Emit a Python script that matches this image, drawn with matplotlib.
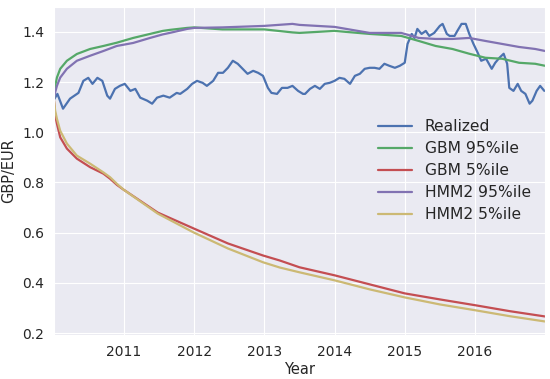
import numpy as np
import matplotlib
matplotlib.use("Agg")
import matplotlib.pyplot as plt
import seaborn as sns

# realized GBP/EUR (decimal year, rate)
realized_t = [2010.00, 2010.05, 2010.13, 2010.23, 2010.35, 2010.42, 2010.49, 2010.55, 2010.62,
              2010.69, 2010.76, 2010.80, 2010.87, 2010.94, 2011.01, 2011.09, 2011.16, 2011.23,
              2011.33, 2011.40, 2011.47, 2011.56, 2011.65, 2011.75, 2011.80, 2011.90, 2011.97,
              2012.04, 2012.12, 2012.18, 2012.27, 2012.34, 2012.41, 2012.48, 2012.55, 2012.62,
              2012.69, 2012.76, 2012.84, 2012.91, 2012.98, 2013.05, 2013.10, 2013.18, 2013.25,
              2013.33, 2013.40, 2013.48, 2013.55, 2013.58, 2013.65, 2013.72, 2013.79, 2013.86,
              2013.93, 2014.00, 2014.07, 2014.14, 2014.22, 2014.29, 2014.36, 2014.43, 2014.50,
              2014.57, 2014.64, 2014.71, 2014.78, 2014.86, 2014.93, 2015.00, 2015.04, 2015.10,
              2015.14, 2015.18, 2015.24, 2015.30, 2015.35, 2015.42, 2015.50, 2015.54, 2015.60,
              2015.64, 2015.71, 2015.75, 2015.81, 2015.87, 2015.92, 2015.98, 2016.04, 2016.09,
              2016.16, 2016.24, 2016.29, 2016.35, 2016.41, 2016.46, 2016.49, 2016.55, 2016.61,
              2016.66, 2016.72, 2016.78, 2016.82, 2016.88, 2016.93, 2016.99]
realized_v = [1.130, 1.153, 1.094, 1.134, 1.157, 1.205, 1.217, 1.193, 1.217,
              1.205, 1.146, 1.134, 1.173, 1.185, 1.193, 1.165, 1.173, 1.138,
              1.126, 1.114, 1.138, 1.146, 1.138, 1.157, 1.153, 1.173, 1.193,
              1.205, 1.197, 1.185, 1.205, 1.237, 1.237, 1.257, 1.285, 1.273,
              1.253, 1.233, 1.245, 1.237, 1.225, 1.177, 1.157, 1.153, 1.177,
              1.177, 1.185, 1.165, 1.153, 1.153, 1.173, 1.185, 1.173, 1.193,
              1.197, 1.205, 1.217, 1.213, 1.193, 1.225, 1.233, 1.253, 1.257,
              1.257, 1.253, 1.273, 1.265, 1.257, 1.265, 1.277, 1.352, 1.392,
              1.376, 1.412, 1.392, 1.404, 1.384, 1.396, 1.424, 1.432, 1.392,
              1.384, 1.384, 1.404, 1.432, 1.432, 1.392, 1.352, 1.317, 1.285,
              1.293, 1.253, 1.277, 1.297, 1.313, 1.273, 1.177, 1.165, 1.193,
              1.165, 1.153, 1.114, 1.126, 1.165, 1.185, 1.165]

# simulated 95th percentile bands
high_t = [2010.00, 2010.018, 2010.043, 2010.09, 2010.185, 2010.327, 2010.516, 2010.706,
          2010.896, 2011.13, 2011.37, 2011.55, 2011.65, 2011.90, 2012.00, 2012.40, 2013.00,
          2013.40, 2013.50, 2014.00, 2014.50, 2014.95, 2015.20, 2015.44, 2015.68, 2015.92,
          2016.15, 2016.39, 2016.63, 2016.86, 2017.00]
gbm95 = [1.13, 1.185, 1.218, 1.253, 1.285, 1.312, 1.332, 1.344,
         1.357, 1.376, 1.392, 1.404, 1.408, 1.416, 1.418, 1.410, 1.410,
         1.398, 1.396, 1.404, 1.392, 1.384, 1.364, 1.344, 1.332, 1.313,
         1.297, 1.293, 1.277, 1.273, 1.265]
hmm95 = [1.13, 1.159, 1.185, 1.218, 1.253, 1.285, 1.305, 1.324,
         1.344, 1.356, 1.376, 1.390, 1.396, 1.412, 1.416, 1.418, 1.424,
         1.432, 1.428, 1.420, 1.396, 1.396, 1.376, 1.372, 1.372, 1.376,
         1.364, 1.352, 1.340, 1.332, 1.324]

# simulated 5th percentile bands
low_t = [2010.00, 2010.018, 2010.043, 2010.09, 2010.185, 2010.327, 2010.516, 2010.706,
         2010.80, 2010.90, 2010.99, 2011.48, 2011.99, 2012.48, 2012.98, 2013.22, 2013.50,
         2014.00, 2014.50, 2015.00, 2015.50, 2016.00, 2016.50, 2017.00]
gbm05 = [1.13, 1.066, 1.034, 0.980, 0.935, 0.895, 0.861, 0.835,
         0.815, 0.790, 0.772, 0.680, 0.617, 0.557, 0.509, 0.489, 0.462,
         0.430, 0.394, 0.358, 0.334, 0.311, 0.287, 0.266]
hmm05 = [1.13, 1.086, 1.054, 1.006, 0.955, 0.907, 0.875, 0.840,
         0.821, 0.794, 0.772, 0.676, 0.601, 0.537, 0.482, 0.461, 0.442,
         0.410, 0.374, 0.342, 0.314, 0.291, 0.267, 0.246]

year_ticks = [2011, 2012, 2013, 2014, 2015, 2016]

sns.set_style("darkgrid")
plt.rcParams["font.family"] = ["DejaVu Sans"]
plt.rcParams["font.size"] = 10

colors = ["#4C72B0", "#55A868", "#C44E52", "#8172B2", "#CCB974"]

fig, ax = plt.subplots(figsize=(5.5, 3.79), dpi=100)
fig.subplots_adjust(left=0.098, right=0.991, bottom=0.116, top=0.982)

ax.plot(realized_t, realized_v, color=colors[0], lw=1.6, label="Realized")
ax.plot(high_t, gbm95, color=colors[1], lw=1.6, label="GBM 95%ile")
ax.plot(low_t, gbm05, color=colors[2], lw=1.6, label="GBM 5%ile")
ax.plot(high_t, hmm95, color=colors[3], lw=1.6, label="HMM2 95%ile")
ax.plot(low_t, hmm05, color=colors[4], lw=1.6, label="HMM2 5%ile")

ax.set_xlim(2010.0, 2017.0)
ax.set_ylim(0.192, 1.5)
ax.set_xticks(year_ticks)
ax.set_xticklabels([str(y) for y in year_ticks])
ax.set_yticks([0.2, 0.4, 0.6, 0.8, 1.0, 1.2, 1.4])
ax.set_xlabel("Year", fontsize=10.5, labelpad=2)
ax.set_ylabel("GBP/EUR", fontsize=10.5, labelpad=4)
ax.tick_params(labelsize=10)

ax.legend(loc="center right", fontsize=11.2, frameon=False, handlelength=2.2,
          labelspacing=0.45)

fig.savefig("out.png", dpi=100)
